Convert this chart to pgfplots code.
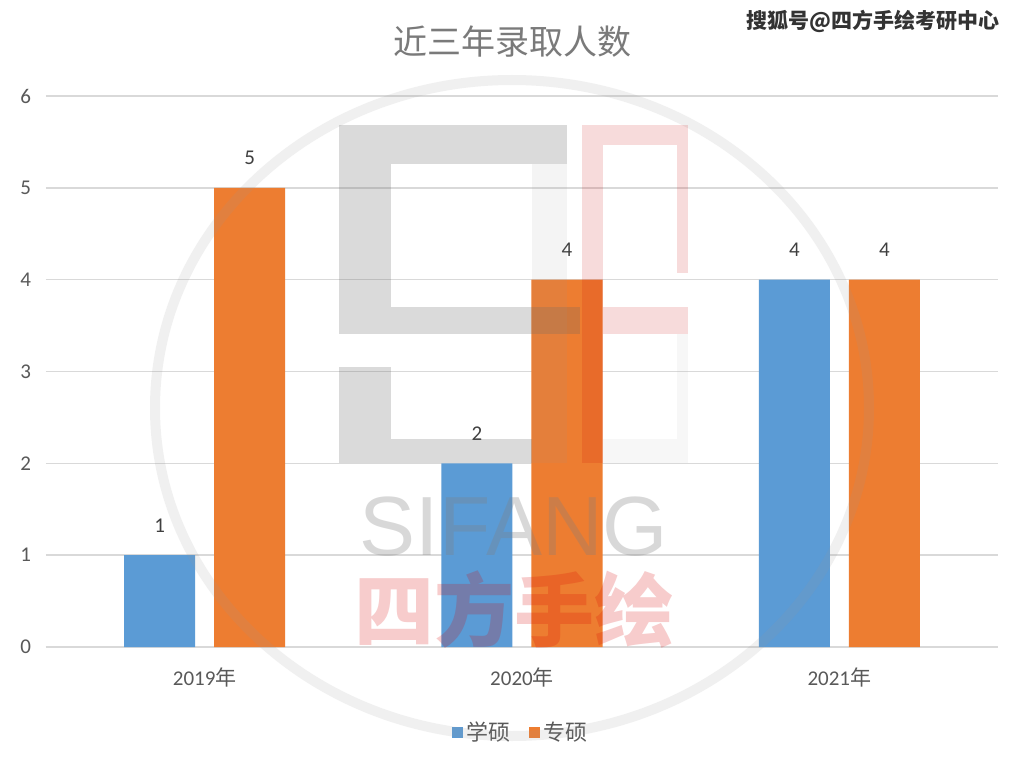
\documentclass[border=0pt]{standalone}
\usepackage{fontspec}
\setmainfont{Carlito}
\newfontfamily\cjk{Noto Sans CJK SC}
\newfontfamily\arialish{Liberation Sans}
\usepackage{pgfplots}
\pgfplotsset{compat=1.18}
\definecolor{xblue}{HTML}{5B9BD5}
\definecolor{xorange}{HTML}{ED7D31}
\definecolor{gridc}{HTML}{D9D9D9}
\definecolor{txt}{HTML}{595959}
\definecolor{lbl}{HTML}{404040}

\begin{document}
\begin{tikzpicture}
\useasboundingbox (0,0) rectangle (512pt,384pt);
\fill[white] (0,0) rectangle (512pt,384pt);

\begin{axis}[
  at={(23pt,60.5pt)}, anchor=south west, scale only axis,
  width=476pt, height=275.5pt,
  xmin=-0.5, xmax=2.5, ymin=0, ymax=6,
  ytick distance=1,
  xtick={0,1,2},
  xticklabels={2019{\cjk 年},2020{\cjk 年},2021{\cjk 年}},
  axis x line*=bottom, axis y line*=left,
  x axis line style={gridc, line width=0.8pt},
  y axis line style={draw=none},
  ymajorgrids, grid style={gridc, line width=0.8pt},
  major tick length=0pt, tick style={draw=none},
  ticklabel style={font=\fontsize{10.5}{12}\selectfont, text=txt},
  /pgf/number format/assume math mode=true,
  yticklabel style={xshift=-4pt},
  xticklabel style={yshift=-7pt},
  ybar=9.5pt, bar width=35.5pt,
  nodes near coords,
  nodes near coords style={font=\fontsize{10.5}{12}\selectfont, text=lbl, yshift=8pt},
  legend style={at={(0.5,-0.156)}, anchor=center, draw=none, fill=none,
    font=\cjk\fontsize{11}{13}\selectfont, text=txt,
    legend columns=-1,
    /tikz/every even column/.append style={column sep=7pt}},
  legend image code/.code={\fill[#1] (0pt,-2.75pt) rectangle (5.5pt,2.75pt);},
]
\addplot[fill=xblue, draw=none] coordinates {(0,1) (1,2) (2,4)};
\addplot[fill=xorange, draw=none] coordinates {(0,5) (1,4) (2,4)};
\legend{学硕,专硕}
\end{axis}

% watermark, drawn in pixel coordinates of the reference
\begin{scope}[x=0.5pt, y=-0.5pt, shift={(0,384pt)}]
  \draw[black!40, line width=5pt, opacity=0.14] (512,408) ellipse (357 and 328);
  \begin{scope}[fill=black!60, opacity=0.24]
    \fill (339,125) rectangle (567,164);
    \fill (339,164) rectangle (391,334);
    \fill (391,307) rectangle (580,334);
    \fill (339,367) rectangle (391,463);
    \fill (391,439) rectangle (532,463);
  \end{scope}
  \fill[black!40, opacity=0.1] (532,164) rectangle (567,463);
  \begin{scope}[fill=red!80!black, opacity=0.14]
    \fill (582,125) rectangle (603,463);
    \fill (603,125) rectangle (688,145);
    \fill (677,145) rectangle (688,273);
    \fill (603,307) rectangle (688,334);
  \end{scope}
  \begin{scope}[fill=black!30, opacity=0.1]
    \fill (677,334) rectangle (688,463);
    \fill (603,439) rectangle (677,463);
  \end{scope}
  \node[text=black!50, opacity=0.3, font=\arialish\fontsize{42}{44}\selectfont, inner sep=0pt]
    at (514,527) {SIFANG};
  \node[text=red!85!black, opacity=0.2, font=\cjk\bfseries\fontsize{40}{42}\selectfont, inner sep=0pt]
    at (514,610) {四方手绘};
  \node[text=txt!80, font=\cjk\fontsize{17}{20}\selectfont] at (512,42) {近三年录取人数};
  \node[anchor=east, text=black!80, font=\cjk\bfseries\fontsize{10.5}{12}\selectfont,
    fill=white, inner sep=1pt] at (1002,21) {搜狐号@四方手绘考研中心};
\end{scope}
\end{tikzpicture}
\end{document}
